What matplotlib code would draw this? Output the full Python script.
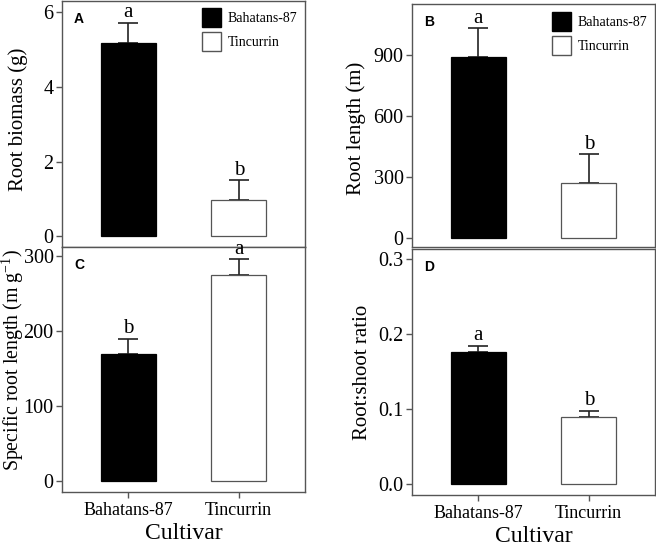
import matplotlib.pyplot as plt
from matplotlib.patches import Patch
from matplotlib.ticker import FormatStrFormatter

plt.rcParams['font.family'] = ['Liberation Serif', 'DejaVu Serif']
plt.rcParams['mathtext.fontset'] = 'custom'
plt.rcParams['mathtext.rm'] = 'Liberation Serif'

cultivars = ['Bahatans-87', 'Tincurrin']
biomass = [5.19, 0.98]
biomass_err = [0.54, 0.52]
length = [888, 271]
length_err = [143, 141]
srl = [168.8, 274.6]
srl_err = [20.8, 21.0]
ratio = [0.1766, 0.0899]
ratio_err = [0.0074, 0.008]
letters_A = ['a', 'b']
letters_B = ['a', 'b']
letters_C = ['b', 'a']
letters_D = ['a', 'b']

W, H = 656, 548
fig = plt.figure(figsize=(W / 100, H / 100), dpi=100)

def box(x0, y0, x1, y1):
    return [x0 / W, 1 - y1 / H, (x1 - x0) / W, (y1 - y0) / H]

gray = '#555555'

def panel(rect, vals, errs, lets, ylim, ticks, ylabel, tag, bottom, labxy,
          legend=False, fmt=None, labsize=15):
    ax = fig.add_axes(rect)
    x = [0, 1]
    ax.bar(x, vals, width=0.5, color=['black', 'white'],
           edgecolor=['black', gray], linewidth=0.9, zorder=2)
    ax.errorbar(x, vals, yerr=[[0, 0], errs], fmt='none', ecolor='#222222',
                elinewidth=1.2, capsize=7.5, capthick=1.2, zorder=1)
    for xi, v, e, t in zip(x, vals, errs, lets):
        ax.annotate(t, (xi, v + e), xytext=(0, 0.5), textcoords='offset points',
                    ha='center', va='bottom', fontsize=15)
    ax.set_xlim(-0.6, 1.6)
    ax.set_ylim(*ylim)
    ax.set_yticks(ticks)
    if fmt:
        ax.yaxis.set_major_formatter(FormatStrFormatter(fmt))
    ax.set_ylabel(ylabel, fontsize=labsize)
    ax.yaxis.set_label_coords(*labxy)
    for s in ax.spines.values():
        s.set_color(gray)
        s.set_linewidth(1.0)
    ax.tick_params(axis='y', colors=gray, labelcolor='black', labelsize=14.5,
                   length=4, width=1.0, pad=2)
    if bottom:
        ax.set_xticks(x)
        ax.set_xticklabels(cultivars)
        ax.tick_params(axis='x', colors=gray, labelcolor='black', labelsize=13,
                       length=4, width=1.0, pad=3)
        ax.set_xlabel('Cultivar', fontsize=17, labelpad=3)
    else:
        ax.set_xticks([])
    ax.text(0.05, 0.955, tag, transform=ax.transAxes, ha='left', va='top',
            fontsize=10, fontweight='bold', family='Liberation Sans')
    if legend:
        handles = [Patch(facecolor='black', edgecolor='black', label=cultivars[0]),
                   Patch(facecolor='white', edgecolor=gray, label=cultivars[1])]
        ax.legend(handles=handles, loc='upper right', frameon=False, fontsize=10,
                  handlelength=1.4, handleheight=1.75, handletextpad=0.45,
                  labelspacing=0.35, borderaxespad=0.15)
    return ax

panel(box(62, 0.5, 305, 247), biomass, biomass_err, letters_A, (-0.29, 6.32),
      [0, 2, 4, 6], 'Root biomass (g)', 'A', False, (-0.14, 0.52), legend=True)
panel(box(412, 4, 655, 247), length, length_err, letters_B, (-43, 1150),
      [0, 300, 600, 900], 'Root length (m)', 'B', False, (-0.188, 0.49), legend=True)
panel(box(62, 247, 305, 492), srl, srl_err, letters_C, (-14.7, 312),
      [0, 100, 200, 300], 'Specific root length (m g$^{-1}$)', 'C', True,
      (-0.148, 0.54), labsize=14.3)
panel(box(412, 249, 655, 495), ratio, ratio_err, letters_D, (-0.0147, 0.3133),
      [0.0, 0.1, 0.2, 0.3], 'Root:shoot ratio', 'D', True, (-0.165, 0.5),
      fmt='%.1f')

fig.savefig('out.png', dpi=100)
